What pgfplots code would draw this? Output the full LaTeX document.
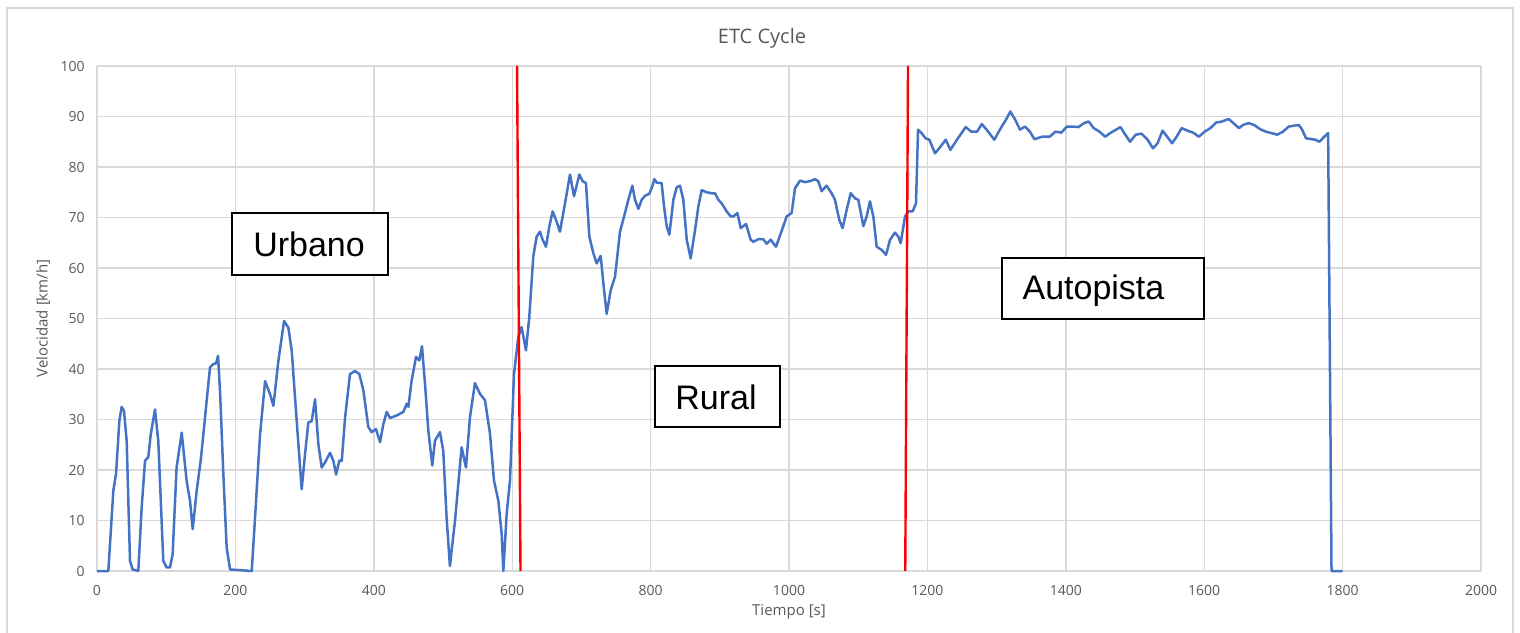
\documentclass[border=0pt]{standalone}
\usepackage{pgfplots}
\pgfplotsset{compat=1.18}
\usepackage{fontspec}
\setmainfont{Open Sans}
\newfontfamily\arial{Liberation Sans}
\definecolor{xlblue}{RGB}{68,114,196}
\definecolor{gridgray}{RGB}{217,217,217}
\definecolor{txtgray}{RGB}{89,89,89}

\pgfplotstableread{
t v
0 0
16.4 0
23.6 15.9
27.5 19.2
32.3 29.7
35.6 32.5
39 31.7
42.9 25.7
47.7 2
51.5 0.3
59.7 0
64.5 12.5
69.4 21.8
74.2 22.6
77.6 27
83.8 32
88.6 25.7
95.8 2
100.6 0.7
105.5 0.7
109.3 3.3
115 20.5
122.4 27.4
129.6 17.8
134.4 13.9
138.3 8.3
144 15.8
150.3 22.4
158.5 33.7
163.3 40.3
168.1 41
172 41.1
174.9 42.6
177.8 35.6
182.6 19.1
187.4 4.6
192.3 0.3
223.6 0
228.4 10.6
235.6 27
242.9 37.6
250.1 35
254.9 32.7
262.1 41.6
270.3 49.5
276.5 48.2
281.4 43.6
288.6 29.7
295.8 16.2
300.6 23.1
305.4 29.4
310.3 29.7
315.1 34
319.9 25.1
324.7 20.5
329.5 21.5
336.8 23.4
341.6 21.8
345.5 19.1
350.3 21.9
353.7 21.8
358.5 30.4
365.6 39
372.8 39.6
379.1 39
384.9 35.8
392.1 28.5
396.9 27.5
403.2 28.1
409 25.5
413.8 29.1
418.6 31.5
423.4 30.3
433.1 30.8
442.7 31.5
447.5 33.1
449.9 32.5
454.7 37.7
461 42.4
465.8 41.7
469.6 44.5
474 37.1
478.8 27.8
484.5 20.9
488.4 25.8
495.6 27.5
500.4 23.8
505.2 10.6
510 1
517.3 9.9
526.9 24.5
533.2 20.5
539 30.5
546.2 37.2
553.4 35.1
560.7 33.8
567.9 27.2
573.7 17.9
580 13.9
584.8 7.3
587.2 0
592 11.3
596.8 17.9
602.6 39
608.9 46.4
613.6 48.3
619.9 43.7
624.7 50.3
630.5 62.3
635.3 66.2
640.1 67.2
644 65.6
648.8 64.2
653.6 68.2
658.4 71.2
663.3 69.5
669 67.2
676.3 72.8
683.5 78.5
689.3 74.2
697 78.5
701.8 77.2
706.6 76.8
711.5 66.2
717.3 62.9
722.1 60.9
727.9 62.4
731.7 57
736.5 50.9
742.3 55.6
748.6 58.3
755.8 67.2
763 70.9
767.8 73.5
773.6 76.3
777.5 73.5
782.3 71.7
787.1 73.5
791.9 74.3
798.2 74.7
802.5 76.2
805.4 77.6
808.8 76.9
816 76.8
819.4 72.2
823.3 68.2
827.1 66.6
832.9 73.5
837.7 76
842.5 76.3
847.3 73.5
852.2 65.6
857.9 61.9
864.2 67.5
869 72.2
873.8 75.4
881.1 75
888.3 74.8
893.1 74.8
897.9 73.5
902.7 72.8
910 71.2
915.8 70.2
919.6 70.2
925.4 70.9
930.2 67.9
937.9 68.7
944.6 65.6
948.5 65.2
955.7 65.7
962.9 65.7
967.7 64.8
973.5 65.6
981.2 64.2
990.8 67.9
996.6 70.2
1003.8 70.9
1008.7 75.8
1016 77.3
1023 77
1030.3 77.2
1037.5 77.6
1042.3 77.2
1047.1 75.2
1054.3 76.3
1061.6 74.8
1066.4 73.5
1072.7 69.5
1077.5 67.9
1083.3 71.5
1089.1 74.8
1095.4 73.8
1100.2 73.5
1107.4 68.3
1112.2 70.2
1117 73.2
1121.9 70.2
1126.7 64.2
1133.9 63.6
1140.2 62.6
1146 65.6
1153.2 67
1158 66.2
1161.4 64.9
1167.6 70.2
1172.5 71.2
1178.7 71.2
1183.5 72.8
1186.5 87.4
1191.7 86.7
1197.2 85.7
1202.8 85.4
1211 82.7
1219.3 84.1
1226.5 85.4
1233.2 83.4
1244.2 85.7
1255.3 87.9
1263.5 87
1271.8 87
1278.5 88.5
1285.6 87.4
1296.7 85.4
1306 87.7
1313.3 89.3
1319.9 91
1327.1 89.3
1333.7 87.4
1340.9 88
1348.1 87
1354.7 85.5
1365.8 86
1376.8 86
1385.1 87
1393.4 86.8
1401.7 88
1410 88
1418.2 87.9
1426.5 88.7
1433.2 89
1440.3 87.7
1448.6 87
1456.9 86
1465.2 86.8
1479 87.9
1484.5 86.7
1492.8 85
1501.1 86.4
1509.4 86.6
1517.7 85.5
1526 83.7
1532.6 84.7
1539.8 87.2
1548.1 85.7
1553.6 84.7
1560.2 86
1567.4 87.7
1575.7 87.2
1584 86.8
1592.3 86
1600.6 87
1608.9 87.7
1617.1 88.8
1625.4 89
1635.4 89.5
1642 88.7
1650.3 87.7
1655.8 88.3
1664.1 88.7
1672.4 88.3
1680.7 87.5
1689 87
1697.3 86.7
1705.5 86.4
1713.8 87
1722.1 88
1730.4 88.2
1737 88.3
1741.5 87.4
1747 85.7
1755.3 85.5
1760.8 85.4
1766.4 85
1773.5 86
1779.1 86.7
1784 0
1800 0
}\etcdata

\begin{document}
\begin{tikzpicture}
% fixed page: 1520x632 px at 0.5pt per px, origin at the plot's lower left
\useasboundingbox (-48.5pt,-30.5pt) rectangle (711.5pt,285.5pt);
\draw[gridgray, line width=0.8pt] (-45pt,-32pt) -- (-45pt,281.5pt) -- (708pt,281.5pt) -- (708pt,-32pt);
\begin{axis}[
    scale only axis,
    width=692pt,
    height=252.5pt,
    xmin=0, xmax=2000,
    ymin=0, ymax=100,
    xtick={0,200,...,2000},
    ytick={0,10,...,100},
    grid=major,
    major grid style={gridgray, line width=0.7pt},
    axis line style={draw=none},
    major tick length=0pt,
    clip=false,
    /pgf/number format/assume math mode=true,
    /pgf/number format/1000 sep={},
    tick label style={font=\fontsize{7}{8}\selectfont, text=txtgray},
    yticklabel style={anchor=east, inner sep=0pt, xshift=-6pt},
    xticklabel style={anchor=north, inner sep=0pt, yshift=-7pt},
    title={ETC Cycle},
    title style={font=\fontsize{10}{12}\selectfont, text=txtgray, at={(axis description cs:0.4805,1.0317)}, anchor=center, yshift=0pt},
    xlabel={Tiempo [s]},
    xlabel style={font=\fontsize{7.5}{9}\selectfont, text=txtgray, at={(axis description cs:0.5,-0.081)}, anchor=center},
    ylabel={Velocidad [km/h]},
    ylabel style={font=\fontsize{7.5}{9}\selectfont, text=txtgray, at={(axis description cs:-0.039,0.5)}, anchor=center},
]
\addplot[xlblue, line width=1.25pt, line join=round] table[x=t, y=v] {\etcdata};
\addplot[red, line width=1.2pt] coordinates {(612,0) (607,100)};
\addplot[red, line width=1.2pt] coordinates {(1168,0) (1172,100)};

% region labels
\draw[black, line width=0.75pt, fill=white] (axis cs:195,58.6) rectangle (axis cs:420.5,70.9);
\node[font=\arial\fontsize{17}{20}\selectfont] at (axis cs:306.4,64.6) {Urbano};
\draw[black, line width=0.75pt, fill=white] (axis cs:806,28.5) rectangle (axis cs:987,40.6);
\node[font=\arial\fontsize{17}{20}\selectfont] at (axis cs:894.5,34.3) {Rural};
\draw[black, line width=0.75pt, fill=white] (axis cs:1308,49.9) rectangle (axis cs:1600,62);
\node[font=\arial\fontsize{17}{20}\selectfont] at (axis cs:1440,55.6) {Autopista};
\end{axis}
\end{tikzpicture}
\end{document}
